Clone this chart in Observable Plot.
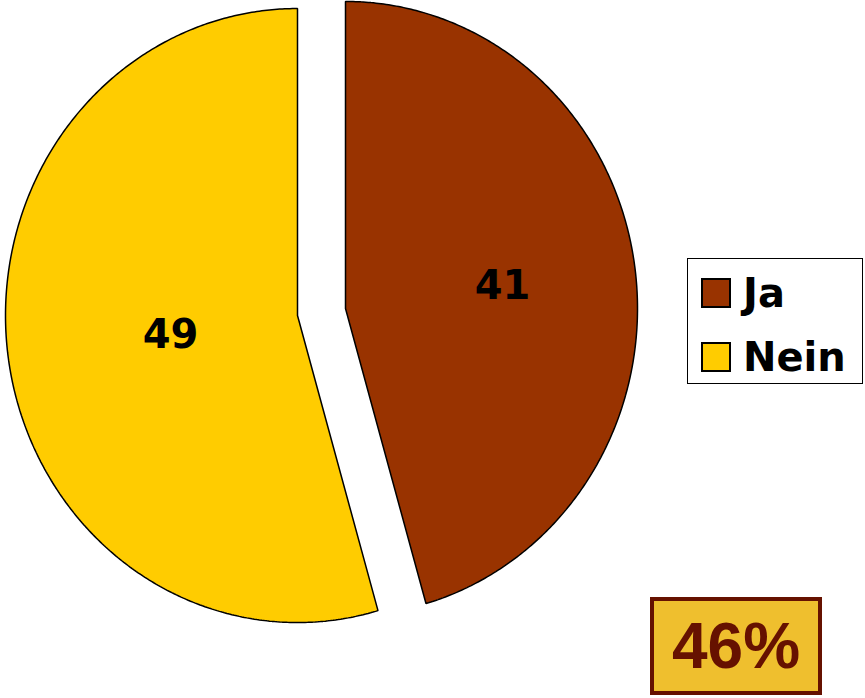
<!DOCTYPE html>
<html>
<head>
<meta charset="utf-8">
<script src="https://cdn.jsdelivr.net/npm/d3@7"></script>
<script src="https://cdn.jsdelivr.net/npm/@observablehq/plot@0.6"></script>
<style>
  html, body { margin: 0; padding: 0; background: #fff; }
  #wrap { position: relative; width: 865px; height: 698px; overflow: hidden; }
  #wrap > svg { position: absolute; left: 0; top: 0; }
  #legend {
    position: absolute; left: 687px; top: 258px; width: 176px; height: 126px;
    box-sizing: border-box; border: 1.5px solid #000; background: #fff;
    padding: 2px 0 0 14px;
  }
  .lg-swatches { margin: 0 !important; font-family: "DejaVu Sans", Verdana, sans-serif !important; font-size: 40px !important; font-weight: bold; color: #000; }
  .lg-swatch { height: 64px; padding-bottom: 0 !important; display: flex; align-items: center; }
  .lg-swatch > svg { margin-right: 13px !important; }
  .lg-swatch > svg rect { stroke: #000; stroke-width: 2px; }
  .lg-swatch-label { line-height: 1.2; overflow: visible !important; text-overflow: clip !important; }
  #badge {
    position: absolute; left: 650px; top: 597px; width: 172px; height: 98px;
    box-sizing: border-box; border: 4px solid #661100; background: #EFBF2E;
    color: #661100; font: bold 64px "Liberation Sans", Arial, sans-serif;
    display: flex; align-items: center; justify-content: center;
  }
</style>
</head>
<body>
<div id="wrap"></div>
<script>
// ---- data ----
const names = ["Ja", "Nein"];
const values = [41, 49];
const colors = ["#993300", "#FFCC00"];
const badgeText = "46%";

// ---- geometry (unit circle, stretched by the x/y scales into an ellipse) ----
const W = 865, H = 698;
const cxPx = 321, cyPx = 311.5, rxPx = 292, ryPx = 307;
const explode = 0.083;
const labelR = 0.491;

const data = names.map((n, i) => ({name: n, value: values[i]}));
const arcs = d3.pie().sort(null).value(d => d.value)(data);

const outline = [];
const labels = [];
arcs.forEach(a => {
  const mid = (a.startAngle + a.endAngle) / 2;
  const ox = explode * Math.sin(mid), oy = explode * Math.cos(mid);
  outline.push({name: a.data.name, x: ox, y: oy});
  const n = Math.ceil((a.endAngle - a.startAngle) / (Math.PI / 360));
  for (let k = 0; k <= n; k++) {
    const t = a.startAngle + (a.endAngle - a.startAngle) * k / n;
    outline.push({name: a.data.name, x: ox + Math.sin(t), y: oy + Math.cos(t)});
  }
  outline.push({name: a.data.name, x: ox, y: oy});
  labels.push({name: a.data.name, value: a.data.value,
               x: ox + labelR * Math.sin(mid), y: oy + labelR * Math.cos(mid)});
});

const colorScale = {domain: names, range: colors};

const chart = Plot.plot({
  width: W, height: H,
  margin: 0,
  x: {domain: [-cxPx / rxPx, (W - cxPx) / rxPx], axis: null},
  y: {domain: [-(H - cyPx) / ryPx, cyPx / ryPx], axis: null},
  color: colorScale,
  marks: [
    Plot.line(outline, {x: "x", y: "y", z: "name", fill: "name", stroke: "#000",
                        strokeWidth: 1.5, strokeLinejoin: "miter", curve: "linear"}),
    Plot.text(labels, {x: "x", y: "y", text: d => String(d.value), dx: 15, dy: -1,
                       fontSize: 40, fontWeight: "bold",
                       fontFamily: "DejaVu Sans, Verdana, sans-serif", fill: "#000"})
  ]
});

const wrap = document.getElementById("wrap");
wrap.appendChild(chart);

const legendBox = document.createElement("div");
legendBox.id = "legend";
legendBox.appendChild(Plot.legend({
  color: {type: "ordinal", ...colorScale},
  legend: "swatches", columns: 1, swatchSize: 28, className: "lg"
}));
wrap.appendChild(legendBox);

const badge = document.createElement("div");
badge.id = "badge";
badge.textContent = badgeText;
wrap.appendChild(badge);
</script>
</body>
</html>
